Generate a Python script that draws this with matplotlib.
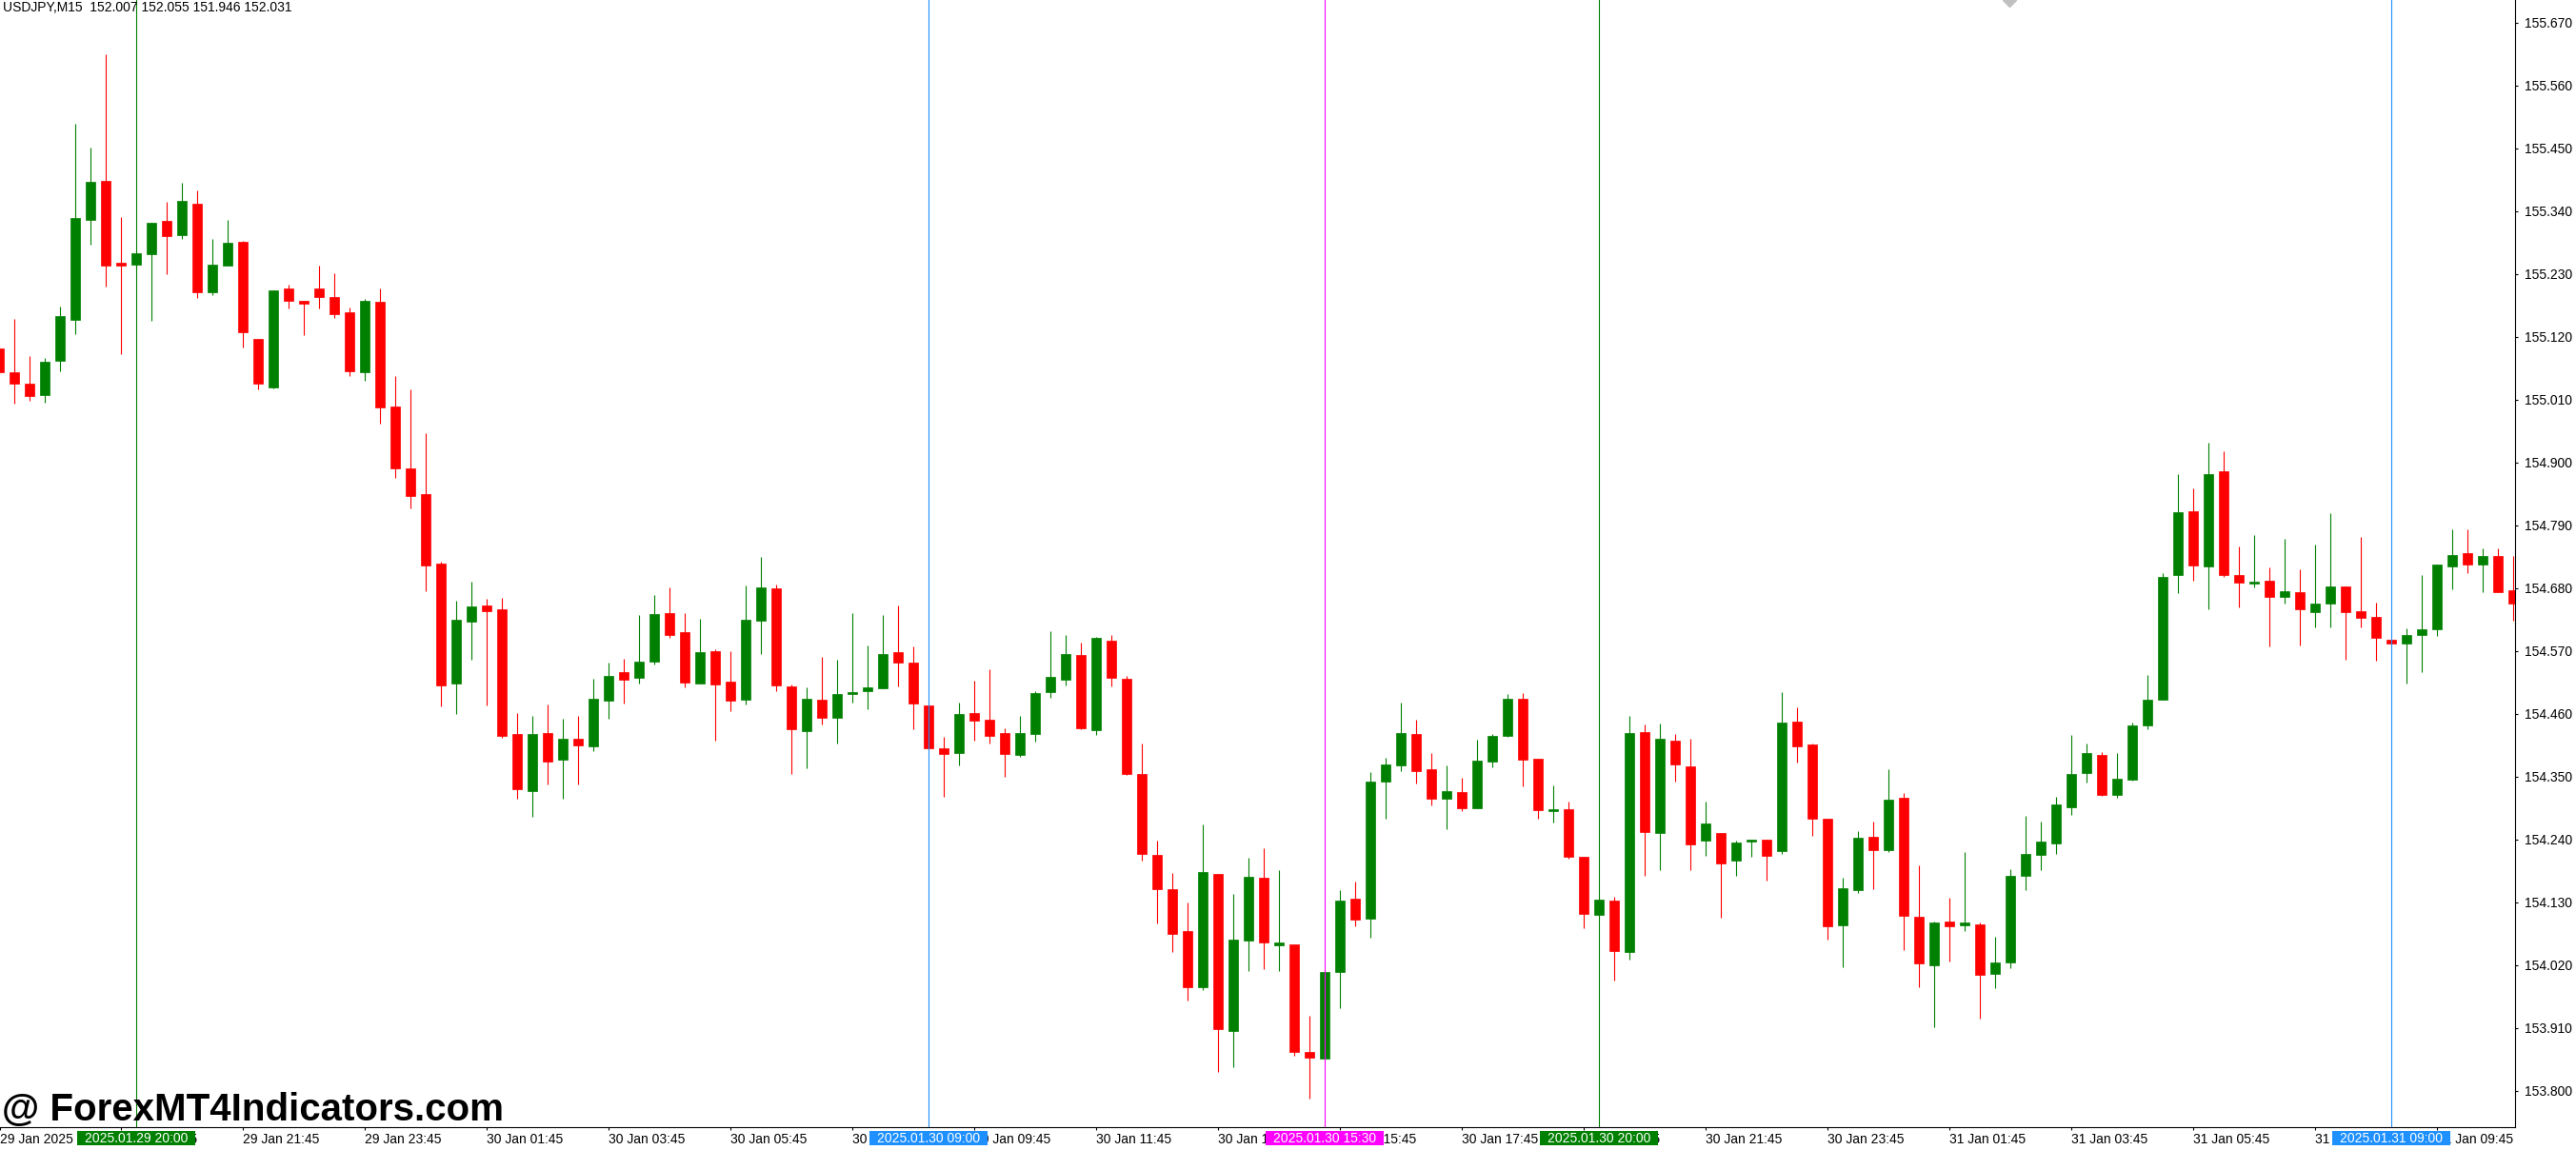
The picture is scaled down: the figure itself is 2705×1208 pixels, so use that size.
import matplotlib
matplotlib.use("Agg")
import matplotlib.pyplot as plt
import matplotlib.transforms as mtransforms
from matplotlib.patches import Rectangle
import numpy as np
import pandas as pd

plt.rcParams['font.family'] = ['Liberation Sans', 'DejaVu Sans']

header = "USDJPY,M15  152.007 152.055 151.946 152.031"
watermark = "@ ForexMT4Indicators.com"
start_time = "2025-01-29 17:45"

# USDJPY M15 candles, left to right
opens = [155.099, 155.058, 155.037, 155.018, 155.077, 155.150, 155.325, 155.392, 155.249, 155.246,
         155.265, 155.322, 155.298, 155.353, 155.198, 155.245, 155.286, 155.116, 155.031, 155.204,
         155.183, 155.204, 155.189, 155.163, 155.058, 155.181, 154.997, 154.890, 154.844, 154.722,
         154.513, 154.621, 154.649, 154.642, 154.424, 154.324, 154.426, 154.379, 154.416, 154.403,
         154.482, 154.532, 154.522, 154.551, 154.636, 154.602, 154.513, 154.569, 154.516, 154.485,
         154.623, 154.679, 154.507, 154.430, 154.484, 154.453, 154.495, 154.500, 154.505, 154.567,
         154.549, 154.474, 154.399, 154.391, 154.461, 154.449, 154.426, 154.388, 154.425, 154.498,
         154.520, 154.563, 154.431, 154.587, 154.521, 154.354, 154.213, 154.153, 154.080, 153.981,
         154.179, 153.905, 154.062, 154.172, 154.055, 154.056, 153.868, 153.856, 154.008, 154.136,
         154.101, 154.341, 154.369, 154.424, 154.362, 154.311, 154.322, 154.295, 154.376, 154.421,
         154.486, 154.381, 154.290, 154.292, 154.209, 154.108, 154.132, 154.043, 154.428, 154.251,
         154.413, 154.368, 154.238, 154.251, 154.203, 154.236, 154.239, 154.220, 154.446, 154.406,
         154.276, 154.090, 154.151, 154.244, 154.221, 154.313, 154.104, 154.020, 154.096, 154.090,
         154.091, 154.005, 154.024, 154.176, 154.213, 154.233, 154.296, 154.356, 154.387, 154.317,
         154.344, 154.440, 154.485, 154.702, 154.814, 154.718, 154.884, 154.702, 154.688, 154.692,
         154.665, 154.673, 154.638, 154.653, 154.683, 154.639, 154.629, 154.589, 154.582, 154.598,
         154.607, 154.718, 154.741, 154.721, 154.736, 154.676]
highs = [155.106, 155.151, 155.086, 155.082, 155.172, 155.492, 155.451, 155.614, 155.329, 155.270,
         155.320, 155.356, 155.389, 155.376, 155.291, 155.324, 155.288, 155.116, 155.201, 155.211,
         155.183, 155.244, 155.231, 155.171, 155.186, 155.204, 155.051, 155.028, 154.951, 154.726,
         154.657, 154.691, 154.661, 154.662, 154.461, 154.456, 154.476, 154.451, 154.456, 154.521,
         154.549, 154.556, 154.632, 154.667, 154.681, 154.636, 154.626, 154.572, 154.569, 154.684,
         154.734, 154.686, 154.511, 154.506, 154.559, 154.554, 154.636, 154.579, 154.632, 154.649,
         154.577, 154.476, 154.419, 154.479, 154.517, 154.537, 154.434, 154.456, 154.499, 154.604,
         154.598, 154.584, 154.594, 154.598, 154.526, 154.408, 154.237, 154.181, 154.129, 154.266,
         154.179, 154.144, 154.208, 154.224, 154.186, 154.056, 153.931, 154.009, 154.151, 154.166,
         154.357, 154.383, 154.479, 154.449, 154.391, 154.369, 154.348, 154.414, 154.424, 154.494,
         154.496, 154.381, 154.334, 154.306, 154.209, 154.136, 154.139, 154.456, 154.441, 154.443,
         154.424, 154.416, 154.306, 154.251, 154.238, 154.239, 154.239, 154.498, 154.471, 154.408,
         154.276, 154.173, 154.254, 154.271, 154.363, 154.321, 154.195, 154.096, 154.137, 154.217,
         154.094, 154.070, 154.188, 154.281, 154.271, 154.314, 154.422, 154.408, 154.393, 154.391,
         154.444, 154.528, 154.706, 154.879, 154.854, 154.934, 154.919, 154.752, 154.772, 154.716,
         154.766, 154.712, 154.756, 154.811, 154.683, 154.769, 154.654, 154.590, 154.609, 154.702,
         154.721, 154.783, 154.783, 154.749, 154.749, 154.736]
lows = [155.051, 155.003, 155.007, 155.005, 155.060, 155.125, 155.281, 155.208, 155.090, 155.240,
        155.147, 155.230, 155.291, 155.188, 155.193, 155.244, 155.101, 155.027, 155.030, 155.170,
        155.123, 155.170, 155.153, 155.051, 155.042, 154.968, 154.873, 154.820, 154.674, 154.472,
        154.459, 154.555, 154.474, 154.418, 154.311, 154.279, 154.336, 154.311, 154.336, 154.394,
        154.451, 154.477, 154.512, 154.546, 154.592, 154.506, 154.512, 154.412, 154.465, 154.476,
        154.565, 154.500, 154.355, 154.365, 154.441, 154.408, 154.480, 154.468, 154.504, 154.508,
        154.433, 154.398, 154.315, 154.370, 154.413, 154.408, 154.350, 154.385, 154.411, 154.488,
        154.510, 154.432, 154.423, 154.508, 154.352, 154.202, 154.093, 154.043, 153.958, 153.976,
        153.832, 153.841, 154.010, 154.013, 154.010, 153.861, 153.786, 153.854, 153.945, 154.088,
        154.068, 154.276, 154.360, 154.337, 154.299, 154.258, 154.290, 154.294, 154.366, 154.420,
        154.333, 154.276, 154.270, 154.206, 154.085, 154.105, 153.993, 154.030, 154.176, 154.186,
        154.341, 154.186, 154.211, 154.103, 154.176, 154.210, 154.168, 154.215, 154.375, 154.246,
        154.065, 154.016, 154.146, 154.153, 154.218, 154.046, 153.981, 153.911, 154.026, 154.080,
        153.926, 153.980, 154.015, 154.151, 154.186, 154.214, 154.283, 154.339, 154.316, 154.313,
        154.343, 154.433, 154.484, 154.671, 154.693, 154.642, 154.700, 154.646, 154.681, 154.578,
        154.652, 154.580, 154.611, 154.611, 154.555, 154.611, 154.553, 154.581, 154.513, 154.532,
        154.596, 154.677, 154.706, 154.673, 154.672, 154.623]
closes = [155.057, 155.038, 155.016, 155.076, 155.156, 155.327, 155.391, 155.245, 155.245, 155.266,
          155.319, 155.296, 155.357, 155.198, 155.246, 155.284, 155.127, 155.038, 155.201, 155.182,
          155.177, 155.189, 155.160, 155.060, 155.183, 154.996, 154.890, 154.841, 154.720, 154.510,
          154.624, 154.647, 154.640, 154.421, 154.328, 154.424, 154.376, 154.416, 154.405, 154.486,
          154.526, 154.519, 154.551, 154.634, 154.597, 154.515, 154.567, 154.511, 154.483, 154.624,
          154.681, 154.510, 154.433, 154.486, 154.453, 154.494, 154.497, 154.506, 154.564, 154.550,
          154.478, 154.400, 154.390, 154.459, 154.448, 154.421, 154.390, 154.426, 154.496, 154.524,
          154.564, 154.435, 154.593, 154.523, 154.355, 154.215, 154.153, 154.075, 153.981, 154.183,
          153.907, 154.064, 154.174, 154.060, 154.059, 153.868, 153.858, 154.008, 154.132, 154.100,
          154.341, 154.371, 154.426, 154.360, 154.311, 154.324, 154.295, 154.377, 154.421, 154.486,
          154.380, 154.291, 154.292, 154.210, 154.110, 154.134, 154.045, 154.426, 154.253, 154.416,
          154.371, 154.231, 154.268, 154.198, 154.234, 154.239, 154.211, 154.444, 154.403, 154.276,
          154.088, 154.154, 154.243, 154.221, 154.309, 154.106, 154.023, 154.094, 154.088, 154.094,
          154.003, 154.024, 154.176, 154.214, 154.236, 154.301, 154.354, 154.391, 154.318, 154.346,
          154.439, 154.485, 154.699, 154.812, 154.720, 154.879, 154.703, 154.690, 154.691, 154.665,
          154.674, 154.642, 154.652, 154.683, 154.638, 154.627, 154.592, 154.582, 154.598, 154.607,
          154.721, 154.737, 154.721, 154.736, 154.673, 154.652]

price_ticks = [155.670, 155.560, 155.450, 155.340, 155.230, 155.120, 155.010, 154.900, 154.790,
               154.680, 154.570, 154.460, 154.350, 154.240, 154.130, 154.020, 153.910, 153.800]

marker_times = ["2025-01-29 20:00", "2025-01-30 09:00", "2025-01-30 15:30",
                "2025-01-30 20:00", "2025-01-31 09:00"]
marker_colors = ["#008000", "#1e90ff", "#ff00ff", "#008000", "#1e90ff"]

o = np.array(opens)
h = np.array(highs)
l = np.array(lows)
c = np.array(closes)
n = len(o)
idx = np.arange(n)
times = pd.date_range(start_time, periods=n, freq="15min")

W, H = 2705, 1208
fig = plt.figure(figsize=(W / 100, H / 100), dpi=100)
ax = fig.add_axes([0, 24.5 / H, 2641 / W, 1183.5 / H])

col = np.where(c >= o, "#008000", "#ff0000")
ax.vlines(idx, l, h, colors=col, linewidth=0.8, zorder=2)
body = np.maximum(np.abs(c - o), 0.0005)
ax.bar(idx, body, bottom=np.minimum(o, c), width=0.64, color=col,
       edgecolor=col, linewidth=0.5, zorder=3)

ax.set_xlim(0.0625, 165.125)
ax.set_ylim(153.7367, 155.7092)

for s in ["left", "top"]:
    ax.spines[s].set_visible(False)
for s in ["right", "bottom"]:
    ax.spines[s].set_linewidth(0.8)

ax.yaxis.tick_right()
ax.set_yticks(price_ticks)
ax.set_yticklabels(["%.3f" % p for p in price_ticks])
ax.tick_params(axis="y", direction="out", length=2.5, width=0.8, pad=4.5, labelsize=10)

xt = [0.0625] + list(range(8, n, 8))
xl = ["29 Jan 2025"] + [times[i].strftime("%d %b %H:%M") for i in range(8, n, 8)]
ax.set_xticks(xt)
ax.set_xticklabels(xl)
for lbl in ax.get_xticklabels():
    lbl.set_ha("left")
ax.tick_params(axis="x", direction="out", length=2.5, width=0.8, pad=2.5, labelsize=10)

# event lines and their time boxes
bt = mtransforms.blended_transform_factory(ax.transData, fig.transFigure)
for t, clr in zip(marker_times, marker_colors):
    i = times.get_loc(pd.Timestamp(t))
    ax.axvline(i, color=clr, linewidth=0.8, zorder=5)
    ax.add_patch(Rectangle((i - 3.85, 5 / H), 7.7, 15 / H, transform=bt,
                           facecolor=clr, edgecolor="none", clip_on=False, zorder=10))
    ax.text(i, 12.5 / H, pd.Timestamp(t).strftime("%Y.%m.%d %H:%M"), transform=bt,
            ha="center", va="center", color="white", fontsize=10, zorder=11, clip_on=False)

# chart shift marker at the top edge
ax.plot([0.799], [1.0], marker="D", markersize=7, color="#c0c0c0",
        transform=ax.transAxes, clip_on=False, zorder=6)

fig.text(3 / W, 1 - 11.6 / H, header, fontsize=10, va="baseline", ha="left")
fig.text(2 / W, 31 / H, watermark, fontsize=29, fontweight="bold", va="baseline", ha="left")

fig.savefig("out.png", dpi=100, facecolor="white")
